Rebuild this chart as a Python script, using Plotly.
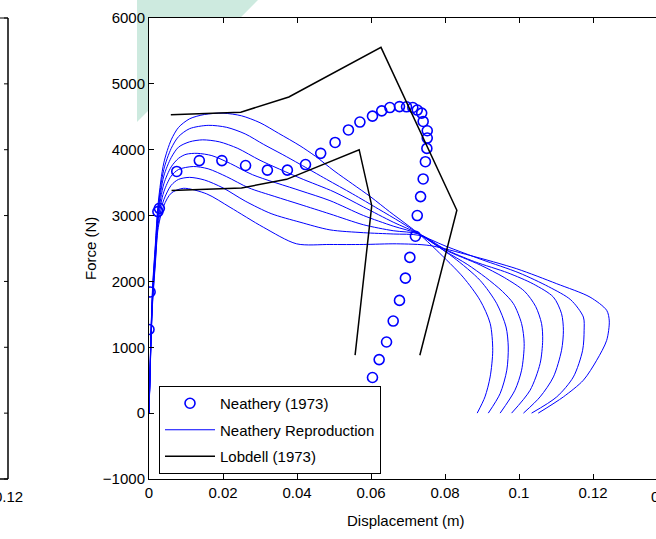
import plotly.graph_objects as go

# ---------------- data ----------------
neathery_x = [0.0, 0.0003, 0.0024, 0.0028, 0.0075, 0.0136, 0.0197, 0.0261, 0.032, 0.0374,
              0.0423, 0.0464, 0.0503, 0.0539, 0.057, 0.0604, 0.0629, 0.0651, 0.0677, 0.0696,
              0.0713, 0.0725, 0.0737, 0.0741, 0.0752, 0.0752, 0.0751, 0.0747, 0.0741, 0.0734,
              0.0725, 0.072, 0.0705, 0.0693, 0.0677, 0.066, 0.0642, 0.0622, 0.0604]
neathery_F = [1270, 1840, 3060, 3110, 3670, 3835, 3835, 3760, 3690, 3690,
              3775, 3945, 4110, 4300, 4420, 4510, 4590, 4640, 4655, 4652,
              4641, 4602, 4556, 4429, 4288, 4177, 4020, 3818, 3556, 3288,
              3000, 2686, 2365, 2050, 1712, 1398, 1080, 813, 541]

repro_1_x = [0, 0.0003, 0.0006, 0.001, 0.0017, 0.0025, 0.004, 0.006, 0.008, 0.011, 0.015, 0.02,
             0.025, 0.03, 0.035, 0.0408, 0.045, 0.05, 0.055, 0.06, 0.065, 0.07, 0.073, 0.0778,
             0.0849, 0.0895, 0.0922, 0.0929, 0.0922, 0.0908, 0.0887]
repro_1_F = [0, 700, 1350, 1950, 2550, 3200, 3800, 4150, 4340, 4470, 4535, 4555,
             4515, 4410, 4250, 4060, 3900, 3680, 3480, 3280, 3060, 2850, 2720, 2470,
             2065, 1712, 1364, 955, 550, 247, 0]

repro_2_x = [0, 0.0003, 0.0006, 0.001, 0.0017, 0.0025, 0.004, 0.006, 0.008, 0.011, 0.016, 0.021,
             0.026, 0.031, 0.036, 0.0408, 0.048, 0.055, 0.062, 0.068, 0.073, 0.0822, 0.0895,
             0.094, 0.0965, 0.0971, 0.0967, 0.0949, 0.0917]
repro_2_F = [0, 680, 1320, 1900, 2500, 3130, 3700, 4020, 4200, 4320, 4370, 4340,
             4240, 4080, 3930, 3780, 3550, 3330, 3100, 2900, 2720, 2368, 2015,
             1662, 1308, 1005, 652, 298, 0]

repro_3_x = [0, 0.0003, 0.0006, 0.001, 0.0017, 0.0025, 0.004, 0.006, 0.008, 0.011, 0.0145, 0.019,
             0.024, 0.03, 0.0408, 0.05, 0.058, 0.066, 0.073, 0.08, 0.086, 0.091, 0.0955, 0.0985,
             0.1007, 0.1014, 0.1007, 0.0989, 0.0949]
repro_3_F = [0, 660, 1290, 1860, 2450, 3070, 3600, 3880, 4040, 4120, 4150, 4120,
             4020, 3840, 3570, 3360, 3130, 2900, 2720, 2460, 2260, 2060, 1850, 1662,
             1359, 1056, 652, 348, 0]

repro_4_x = [0, 0.0003, 0.0006, 0.001, 0.0017, 0.0025, 0.004, 0.006, 0.008, 0.01, 0.013, 0.017,
             0.022, 0.028, 0.0408, 0.0489, 0.058, 0.066, 0.073, 0.08, 0.0895, 0.096, 0.1015,
             0.1045, 0.1061, 0.1064, 0.1057, 0.103, 0.098]
repro_4_F = [0, 640, 1260, 1820, 2400, 3010, 3480, 3740, 3870, 3930, 3945, 3910,
             3790, 3620, 3380, 3227, 3000, 2840, 2720, 2480, 2250, 2060, 1850,
             1620, 1359, 1106, 753, 348, 0]

repro_5_x = [0, 0.0003, 0.0006, 0.001, 0.0017, 0.0025, 0.004, 0.006, 0.008, 0.012, 0.016, 0.021,
             0.027, 0.034, 0.0408, 0.0489, 0.058, 0.066, 0.073, 0.08, 0.088, 0.097, 0.1039,
             0.1093, 0.1115, 0.112, 0.1115, 0.1093, 0.1057, 0.1012]
repro_5_F = [0, 620, 1230, 1780, 2350, 2950, 3360, 3600, 3700, 3745, 3710, 3590,
             3420, 3290, 3170, 3025, 2860, 2770, 2720, 2490, 2300, 2130, 1960,
             1762, 1510, 1258, 955, 550, 247, 0]

repro_6_x = [0, 0.0003, 0.0006, 0.001, 0.0017, 0.0025, 0.004, 0.006, 0.008, 0.011, 0.015, 0.02,
             0.026, 0.033, 0.0408, 0.0489, 0.058, 0.066, 0.073, 0.08, 0.09, 0.1, 0.108, 0.114,
             0.1174, 0.1176, 0.1172, 0.1147, 0.1102, 0.1034]
repro_6_F = [0, 600, 1200, 1740, 2300, 2880, 3240, 3460, 3550, 3580, 3540, 3420,
             3220, 3030, 2900, 2783, 2740, 2720, 2700, 2540, 2330, 2130, 1920, 1720,
             1459, 1258, 955, 550, 247, 0]

repro_7_x = [0, 0.0003, 0.0006, 0.001, 0.0017, 0.0025, 0.004, 0.006, 0.0093, 0.0156, 0.0219,
             0.0309, 0.0399, 0.0489, 0.0579, 0.0669, 0.0759, 0.0868, 0.0994, 0.1102, 0.1192,
             0.1237, 0.1244, 0.1237, 0.121, 0.1174, 0.112, 0.1052]
repro_7_F = [0, 580, 1170, 1700, 2250, 2820, 3150, 3340, 3414, 3329, 3126,
             2823, 2571, 2561, 2561, 2571, 2545, 2394, 2192, 1965, 1762,
             1561, 1400, 1106, 803, 500, 247, 0]

lobdell_upper_x = [0.0059, 0.0248, 0.0378, 0.0627, 0.0832, 0.0732]
lobdell_upper_F = [4530, 4570, 4800, 5555, 3080, 880]
lobdell_lower_x = [0.0061, 0.025, 0.0372, 0.0568, 0.0602, 0.0557]
lobdell_lower_F = [3380, 3420, 3550, 4000, 3150, 880]

x_tick_vals = [0, 0.02, 0.04, 0.06, 0.08, 0.1, 0.12]
x_tick_text = ["0", "0.02", "0.04", "0.06", "0.08", "0.1", "0.12"]
y_tick_vals = [-1000, 0, 1000, 2000, 3000, 4000, 5000, 6000]

# ---------------- layout helpers (pixels -> paper) ----------------
W, H = 656, 539
L, R, T, B = 149, 656, 18, 479
X_MAX = 0.02 * (R - L) / 74.0


def px_x(p):
    return (p - L) / (R - L)


def px_y(p):
    return (B - p) / (B - T)


FONT = "Liberation Sans, Arial, sans-serif"
BLUE = "#0000ff"

fig = go.Figure()

fig.add_trace(go.Scatter(
    x=neathery_x, y=neathery_F, mode="markers", name="Neathery (1973)",
    marker=dict(symbol="circle-open", size=10, color=BLUE, line=dict(width=1.6, color=BLUE)),
    legendgroup="a"))

repro = [(repro_1_x, repro_1_F), (repro_2_x, repro_2_F), (repro_3_x, repro_3_F),
         (repro_4_x, repro_4_F), (repro_5_x, repro_5_F), (repro_6_x, repro_6_F),
         (repro_7_x, repro_7_F)]
for i, (xs, fs) in enumerate(repro):
    fig.add_trace(go.Scatter(
        x=xs, y=fs, mode="lines", name="Neathery Reproduction",
        line=dict(color=BLUE, width=1, shape="spline", smoothing=0.8),
        showlegend=(i == 0), legendgroup="b"))

fig.add_trace(go.Scatter(
    x=lobdell_upper_x, y=lobdell_upper_F, mode="lines", name="Lobdell (1973)",
    line=dict(color="black", width=1.5), legendgroup="c"))
fig.add_trace(go.Scatter(
    x=lobdell_lower_x, y=lobdell_lower_F, mode="lines", name="Lobdell (1973)",
    line=dict(color="black", width=1.5), showlegend=False, legendgroup="c"))

shapes = []
# faint green watermark fragment visible in the margins
tri = [(137, 0), (258, 0), (240.6, 17.5), (149, 17.5), (149, 110), (137, 122)]
path = "M " + " L ".join(f"{px_x(a):.5f},{px_y(b):.5f}" for a, b in tri) + " Z"
shapes.append(dict(type="path", xref="paper", yref="paper", path=path,
                   fillcolor="#cdeadf", line=dict(width=0), layer="below"))
# right border of the neighbouring (cropped) axes on the left
shapes.append(dict(type="line", xref="paper", yref="paper", x0=px_x(8), x1=px_x(8),
                   y0=px_y(T), y1=px_y(B), line=dict(color="black", width=1.5)))
shapes.append(dict(type="line", xref="paper", yref="paper", x0=px_x(0), x1=px_x(8),
                   y0=px_y(B), y1=px_y(B), line=dict(color="black", width=1.5)))
shapes.append(dict(type="line", xref="paper", yref="paper", x0=px_x(0), x1=px_x(8),
                   y0=px_y(T), y1=px_y(T), line=dict(color="black", width=1)))
for k in range(8):
    py = B - k * (B - T) / 7.0
    shapes.append(dict(type="line", xref="paper", yref="paper", x0=px_x(4), x1=px_x(8),
                       y0=px_y(py), y1=px_y(py), line=dict(color="black", width=1)))

annotations = [
    dict(text="Displacement (m)", xref="paper", yref="paper", x=px_x(406), y=px_y(520),
         showarrow=False, font=dict(family=FONT, size=15, color="black"),
         xanchor="center", yanchor="middle"),
    dict(text="Force (N)", xref="paper", yref="paper", x=px_x(90), y=px_y(249),
         showarrow=False, textangle=-90, font=dict(family=FONT, size=15, color="black"),
         xanchor="center", yanchor="middle"),
    dict(text="0.14", xref="paper", yref="paper", x=px_x(665), y=px_y(496),
         showarrow=False, font=dict(family=FONT, size=15, color="black"),
         xanchor="center", yanchor="middle"),
    dict(text="0.12", xref="paper", yref="paper", x=px_x(8), y=px_y(496),
         showarrow=False, font=dict(family=FONT, size=15, color="black"),
         xanchor="center", yanchor="middle"),
]

fig.update_layout(
    width=W, height=H,
    margin=dict(l=L, r=W - R, t=T, b=H - B, autoexpand=False),
    paper_bgcolor="white", plot_bgcolor="white",
    font=dict(family=FONT, size=15, color="black"),
    shapes=shapes, annotations=annotations,
    legend=dict(x=px_x(159), y=px_y(386), xanchor="left", yanchor="top",
                bgcolor="white", bordercolor="black", borderwidth=1,
                font=dict(family=FONT, size=15, color="black"),
                tracegroupgap=4, traceorder="grouped", itemwidth=50),
    xaxis=dict(range=[0, X_MAX], tickvals=x_tick_vals, ticktext=x_tick_text,
               ticks="inside", ticklen=5, tickcolor="black", showline=True,
               linecolor="black", linewidth=1, mirror="ticks", showgrid=False,
               zeroline=False, tickfont=dict(family=FONT, size=15, color="black")),
    yaxis=dict(range=[-1000, 6000], tickvals=y_tick_vals,
               ticks="inside", ticklen=5, tickcolor="black", showline=True,
               linecolor="black", linewidth=1, showgrid=False, zeroline=False,
               tickfont=dict(family=FONT, size=15, color="black")),
)

fig.write_html("out.html", config={"displayModeBar": False},
               post_script="document.body.style.margin='0px';document.body.style.overflow='hidden';")
